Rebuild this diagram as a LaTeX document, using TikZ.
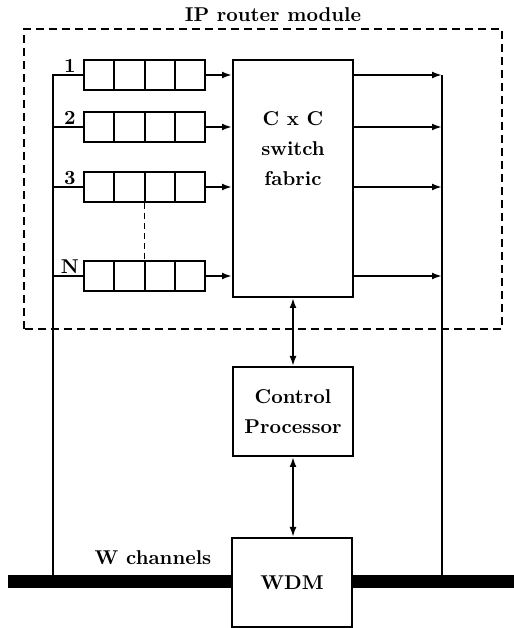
\documentclass[tikz,border=0pt]{standalone}
\usepackage{amsmath}
\usepackage{tikz}
\usetikzlibrary{arrows.meta,calc,positioning}

\begin{document}
\begin{tikzpicture}[x=0.5pt, y=0.5pt, font=\bfseries,
    box/.style={draw, line width=1pt, inner sep=0pt, align=center},
    queue/.style={draw, line width=1pt, minimum width=60.5pt, minimum height=15pt, inner sep=0pt},
    wire/.style={line width=1pt},
    arr/.style={wire, -{Latex[length=5pt,width=3.5pt]}},
    darr/.style={wire, {Latex[length=5pt,width=3.5pt]}-{Latex[length=5pt,width=3.5pt]}},
    fiber/.style={line width=6.5pt}]
    \useasboundingbox (0,0) rectangle (514,628);

    \draw[line width=0.75pt, dash pattern=on 4pt off 2.5pt] (24,299) rectangle (502,599);
    \node[anchor=base] (title) at (273,606) {IP router module};

    \node[box, minimum width=60pt, minimum height=118.5pt] (sw) at (293,449.5) {};
    \node[align=center, inner sep=0pt, below=26pt of sw.north] (swtxt) {C x C\\[3pt] switch\\[3pt] fabric};
    \node[box, minimum width=60pt, minimum height=44.5pt] (cp) at (293,216.5) {Control\\[3pt] Processor};
    \node[box, minimum width=60pt, minimum height=44.5pt] (wdm) at (292,45.5) {WDM};

    \coordinate (fibL) at (8,46.5);
    \coordinate (fibR) at (514,46.5);
    \coordinate (busL) at (53,46.5);
    \coordinate (busR) at (442,46.5);

    \foreach \i/\y/\n in {1/553/1, 2/501/2, 3/441/3, 4/352/N} {
        \node[queue] (q\i) at (144.5,\y) {};
        \foreach \k in {1,2,3}
            \draw[wire] ($(q\i.north west)!\k/4!(q\i.north east)$) -- ($(q\i.south west)!\k/4!(q\i.south east)$);
        \node[inner sep=1pt, anchor=south] (n\i) at ([xshift=-6.5pt]q\i.west) {\n};
        \draw[wire] (q\i.west) -- (busL |- q\i.west);
        \draw[arr] (q\i.east) -- (q\i.east -| sw.west);
        \draw[arr] (sw.east |- q\i.east) -- (busR |- q\i.east);
    }
    \draw[wire] (busL) |- (q1.west);
    \draw[wire] (busR) -- (busR |- q1.east);
    \draw[line width=0.75pt, dash pattern=on 3pt off 2pt] (q3.south) -- (q4.north);

    \draw[darr] (sw.south) -- (cp.north);
    \draw[darr] (cp.south) -- (cp.south |- wdm.north);

    \draw[fiber] (fibL) -- (fibL -| wdm.west);
    \draw[fiber] (wdm.east |- fibR) -- (fibR);
    \node[anchor=base] (wch) at (153,63) {W channels};
\end{tikzpicture}
\end{document}
